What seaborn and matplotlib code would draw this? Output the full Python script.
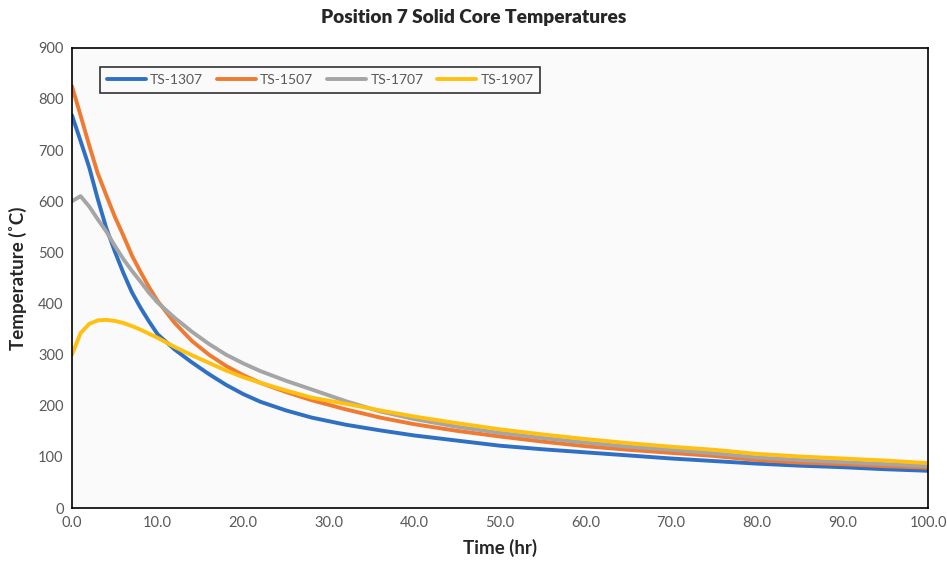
import matplotlib
matplotlib.use("Agg")
import matplotlib.pyplot as plt
import seaborn as sns
import pandas as pd

# ---- data ----
time_hr = [0, 1, 2, 3, 4, 5, 6, 7, 8, 9, 10, 12, 14, 16, 18, 20, 22, 25, 28,
           32, 36, 40, 45, 50, 55, 60, 65, 70, 75, 80, 85, 90, 95, 100]
ts_1307 = [768, 718, 667, 605, 548, 502, 460, 422, 392, 365, 340, 310, 285, 262,
           241, 223, 208, 191, 177, 163, 152, 142, 132, 122, 115, 109, 103, 97,
           92, 87, 83, 80, 76, 73]
ts_1507 = [825, 768, 710, 655, 612, 570, 533, 494, 462, 432, 405, 362, 327, 300,
           278, 260, 245, 227, 211, 193, 177, 164, 151, 140, 130, 121, 114, 108,
           102, 94, 89, 86, 82, 79]
ts_1707 = [600, 610, 590, 565, 541, 513, 487, 464, 443, 421, 402, 372, 345, 321,
           300, 283, 268, 249, 232, 209, 189, 174, 159, 147, 137, 128, 120, 114,
           107, 99, 94, 90, 86, 82]
ts_1907 = [300, 342, 360, 367, 368, 366, 362, 356, 349, 341, 333, 315, 299, 284,
           269, 256, 245, 230, 216, 204, 191, 179, 166, 154, 144, 135, 127, 120,
           114, 106, 101, 97, 93, 88]
series_names = ["TS-1307", "TS-1507", "TS-1707", "TS-1907"]
series_colors = ["#3070C4", "#F07A32", "#A5A5A5", "#FFC010"]
x_ticks = [0, 10, 20, 30, 40, 50, 60, 70, 80, 90, 100]
y_ticks = [0, 100, 200, 300, 400, 500, 600, 700, 800, 900]

frames = []
for name, vals in zip(series_names, [ts_1307, ts_1507, ts_1707, ts_1907]):
    frames.append(pd.DataFrame({"Time": time_hr, "Temp": vals, "Series": name}))
df = pd.concat(frames, ignore_index=True)

sns.set_style("white")
plt.rcParams["font.family"] = ["Lato", "DejaVu Sans"]

fig = plt.figure(figsize=(9.47, 5.69), dpi=100)
ax = fig.add_axes([0.076, 0.107, 0.904, 0.809])
ax.set_facecolor("#FAFAFA")

sns.lineplot(data=df, x="Time", y="Temp", hue="Series", palette=series_colors,
             hue_order=series_names, linewidth=2.8, ax=ax)

ax.set_xlim(0, 100)
ax.set_ylim(0, 900)
ax.set_xticks(x_ticks)
ax.set_xticklabels([f"{v:.1f}" for v in x_ticks])
ax.set_yticks(y_ticks)
ax.set_yticklabels([str(v) for v in y_ticks])
ax.tick_params(axis="both", direction="in", length=5, width=1.2, color="black",
               labelsize=10.5, labelcolor="#595959", pad=6)
ax.tick_params(axis="x", top=False)
ax.tick_params(axis="y", right=False)
for s in ax.spines.values():
    s.set_color("black")
    s.set_linewidth(1.2)

ax.set_xlabel("Time (hr)", fontsize=13.5, fontweight="bold", labelpad=6)
ax.set_ylabel("Temperature (˚C)", fontsize=13.5, fontweight="bold", labelpad=8)
fig.suptitle("Position 7 Solid Core Temperatures", fontsize=13.8,
             fontweight="heavy", y=0.985)

handles, labels = ax.get_legend_handles_labels()
leg = ax.legend(handles, labels, ncol=4, loc="lower left",
                bbox_to_anchor=(0.033, 0.902, 0.514, 0.065), mode="expand",
                frameon=True, fancybox=False, edgecolor="black",
                fontsize=10, handlelength=2.8, handletextpad=0.3,
                borderaxespad=0, borderpad=0.5, columnspacing=1.0)
leg.get_frame().set_linewidth(1.2)
leg.get_frame().set_facecolor("#FAFAFA")
for t in leg.get_texts():
    t.set_color("#595959")

fig.savefig("out.png", dpi=100, facecolor="white")
